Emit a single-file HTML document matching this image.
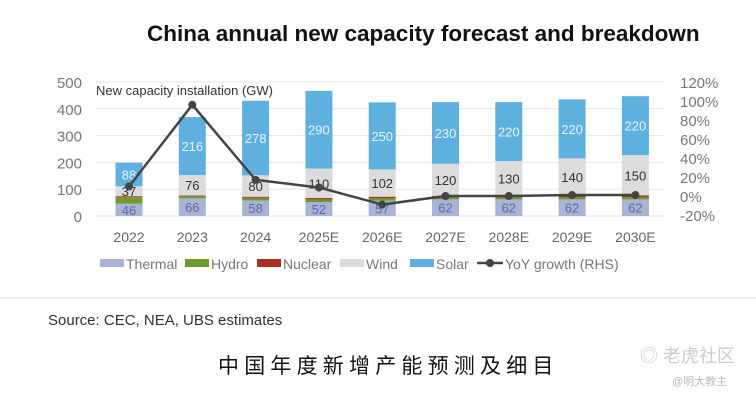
<!DOCTYPE html>
<html><head><meta charset="utf-8"><style>
body{margin:0;width:756px;height:401px;background:#fff;overflow:hidden;font-family:"Liberation Sans","Noto Sans CJK SC",sans-serif;}
svg{position:absolute;left:0;top:0}
</style></head><body>
<svg width="756" height="401">
<text x="147" y="41" font-size="22.5" font-weight="bold" fill="#111">China annual new capacity forecast and breakdown</text>
<g id="grid"></g><g id="bars"></g><g id="line"></g><g id="axes"></g>
<text x="96" y="95" font-size="13" fill="#333">New capacity installation (GW)</text>
<g id="legend"></g>
<line x1="0" y1="298" x2="756" y2="298" stroke="#ddd" stroke-width="1"/>
<text x="48" y="325" font-size="15" fill="#333">Source: CEC, NEA, UBS estimates</text>
<text x="218" y="373" font-size="21" fill="#111" letter-spacing="5.2">中国年度新增产能预测及细目</text>
<text x="640" y="362" font-size="18" fill="#ccc">◎ 老虎社区</text>
<text x="672" y="385" font-size="11" fill="#bbb">@明大教主</text>
</svg>
<script>
const categories=["2022","2023","2024","2025E","2026E","2027E","2028E","2029E","2030E"];
const thermal=[46,66,58,52,57,62,62,62,62];
const hydro=[24,9,10,10,10,10,9,9,9];
const nuclear=[4,2,4,5,5,3,4,4,6];
const wind=[37,76,80,110,102,120,130,140,150];
const solar=[88,216,278,290,250,230,220,220,220];
const yoy=[10,96,17,9,-9,0,0,1,1];
const leftTicks=[0,100,200,300,400,500];
const rightTicks=[-20,0,20,40,60,80,100,120];
const NS="http://www.w3.org/2000/svg";
const y0=216,y500=82,x0=129,dx=63.3,bw=27;
const yL=v=>y0-(v/500)*(y0-y500);
const yR=v=>82+(120-v)/140*(215-82);
const xC=i=>x0+i*dx;
function mk(t,a,p){const e=document.createElementNS(NS,t);for(const k in a)e.setAttribute(k,a[k]);document.getElementById(p).appendChild(e);return e;}
leftTicks.forEach(t=>{
 const l=mk('line',{x1:95,x2:665,y1:yL(t),y2:yL(t),stroke:'#e6e6e6'},'grid');
 
 
 const tx=mk('text',{x:82,y:yL(t)+6,'font-size':15,fill:'#777','text-anchor':'end'},'axes');tx.textContent=t;
 
 
});
rightTicks.forEach(t=>{
 const tx=mk('text',{x:680,y:yR(t)+6,'font-size':15,fill:'#777'},'axes');tx.textContent=t+'%';
 
 
});
const series=[[thermal,'#a9b3d6','thermal','#5a6aa8'],[hydro,'#6e9a2e','hydro',null],[nuclear,'#a8321e','nuclear',null],[wind,'#dcdcdc','wind','#333'],[solar,'#5eb0de','solar','#e8f4fb']];
categories.forEach((c,i)=>{
 let acc=0;
 series.forEach(([arr,col,nm,lc])=>{
  const v=arr[i];const r=mk('rect',{x:xC(i)-bw/2,y:yL(acc+v),width:bw,height:yL(acc)-yL(acc+v),fill:col},'bars');
  
  
  if(lc){const t=mk('text',{x:xC(i),y:(yL(acc)+yL(acc+v))/2+5,'font-size':13,fill:lc,'text-anchor':'middle'},'bars');t.textContent=v;
   
   }
  acc+=v;
 });
 const t=mk('text',{x:xC(i),y:242,'font-size':14,fill:'#666','text-anchor':'middle'},'axes');t.textContent=c;
 
 
});
const pl=mk('polyline',{points:yoy.map((v,i)=>xC(i)+','+yR(v)).join(' '),fill:'none',stroke:'#444','stroke-width':2.5},'line');


yoy.forEach((v,i)=>{const c=mk('circle',{cx:xC(i),cy:yR(v),r:4,fill:'#444'},'line');
 
 });
const leg=[['Thermal','#a9b3d6',100],['Hydro','#6e9a2e',185],['Nuclear','#a8321e',257],['Wind','#dcdcdc',340],['Solar','#5eb0de',410]];
leg.forEach(([n,c,x])=>{
 const g=mk('g',{},'legend');
 
 
 const r=document.createElementNS(NS,'rect');r.setAttribute('x',x);r.setAttribute('y',259);r.setAttribute('width',24);r.setAttribute('height',8);r.setAttribute('fill',c);g.appendChild(r);
 const t=document.createElementNS(NS,'text');t.setAttribute('x',x+26);t.setAttribute('y',269);t.setAttribute('font-size',14);t.setAttribute('fill','#777');t.textContent=n;g.appendChild(t);
});
const g=mk('g',{},'legend');


g.innerHTML='<line x1="477" y1="263" x2="503" y2="263" stroke="#444" stroke-width="2.5"/><circle cx="490" cy="263" r="4" fill="#444"/><text x="505" y="269" font-size="14" fill="#777">YoY growth (RHS)</text>';
</script>
</body></html>
